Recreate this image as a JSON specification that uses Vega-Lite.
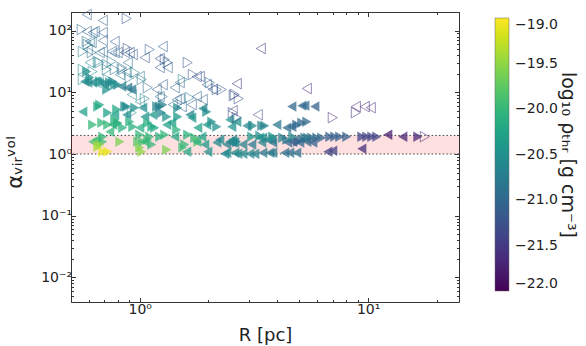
{
  "$schema": "https://vega.github.io/schema/vega-lite/v6.json",
  "width": 388,
  "height": 290,
  "autosize": {"type": "none"},
  "padding": {"left": 71, "top": 12, "right": 127, "bottom": 44},
  "background": "white",
  "config": {
    "font": "DejaVu Sans",
    "view": {"stroke": "#333", "strokeWidth": 1},
    "axis": {"grid": false, "domain": false, "tickColor": "#333", "tickWidth": 1, "labelColor": "#222", "titleColor": "#222", "labelFont": "DejaVu Sans", "titleFont": "DejaVu Sans", "labelFontSize": 14, "titleFontWeight": "normal", "labelFlush": false, "labelOverlap": false},
    "legend": {"padding": 0}
  },
  "datasets": {
    "band": [{"lo": 1, "hi": 2}],
    "lines": [{"v": 1}, {"v": 2}],
    "pts": [
      {"R":0.586,"a":182,"rho":-21.1,"d":"L","f":0},
      {"R":0.689,"a":146,"rho":-21.1,"d":"L","f":0},
      {"R":0.877,"a":157,"rho":-21.2,"d":"R","f":0},
      {"R":0.557,"a":104,"rho":-21.0,"d":"R","f":0},
      {"R":0.586,"a":96.6,"rho":-21.0,"d":"L","f":0},
      {"R":0.622,"a":93.1,"rho":-21.0,"d":"L","f":0},
      {"R":0.635,"a":96.6,"rho":-21.0,"d":"L","f":0},
      {"R":0.689,"a":93.1,"rho":-21.1,"d":"L","f":0},
      {"R":0.586,"a":66.5,"rho":-20.9,"d":"R","f":0},
      {"R":0.604,"a":66.5,"rho":-20.9,"d":"L","f":0},
      {"R":0.592,"a":59.5,"rho":-20.8,"d":"R","f":0},
      {"R":0.616,"a":64.1,"rho":-20.9,"d":"L","f":0},
      {"R":0.689,"a":69.1,"rho":-21.1,"d":"L","f":0},
      {"R":0.777,"a":66.5,"rho":-21.1,"d":"L","f":0},
      {"R":0.886,"a":51.2,"rho":-21.3,"d":"R","f":0},
      {"R":0.860,"a":44.1,"rho":-21.2,"d":"L","f":0},
      {"R":0.932,"a":40.9,"rho":-21.1,"d":"L","f":0},
      {"R":1.106,"a":49.3,"rho":-21.1,"d":"R","f":0},
      {"R":1.261,"a":55.2,"rho":-21.1,"d":"L","f":0},
      {"R":1.223,"a":35.2,"rho":-21.2,"d":"L","f":0},
      {"R":1.287,"a":34.0,"rho":-21.2,"d":"R","f":0},
      {"R":1.326,"a":30.3,"rho":-21.1,"d":"R","f":0},
      {"R":0.563,"a":45.8,"rho":-20.7,"d":"R","f":0},
      {"R":0.592,"a":49.3,"rho":-20.9,"d":"L","f":0},
      {"R":0.616,"a":44.1,"rho":-20.9,"d":"R","f":0},
      {"R":0.668,"a":44.1,"rho":-20.9,"d":"L","f":0},
      {"R":0.689,"a":45.8,"rho":-21.0,"d":"L","f":0},
      {"R":0.754,"a":45.8,"rho":-21.0,"d":"L","f":0},
      {"R":0.777,"a":44.1,"rho":-21.0,"d":"L","f":0},
      {"R":0.801,"a":44.1,"rho":-21.1,"d":"L","f":0},
      {"R":0.904,"a":44.1,"rho":-21.1,"d":"L","f":0},
      {"R":1.052,"a":36.6,"rho":-21.2,"d":"L","f":0},
      {"R":0.604,"a":30.3,"rho":-20.6,"d":"L","f":0},
      {"R":0.668,"a":30.3,"rho":-20.7,"d":"R","f":0},
      {"R":0.717,"a":28.2,"rho":-20.8,"d":"R","f":0},
      {"R":0.754,"a":31.5,"rho":-20.8,"d":"R","f":0},
      {"R":0.834,"a":25.2,"rho":-20.9,"d":"R","f":0},
      {"R":0.886,"a":30.3,"rho":-20.9,"d":"L","f":0},
      {"R":0.563,"a":23.4,"rho":-20.5,"d":"R","f":0},
      {"R":0.622,"a":21.7,"rho":-20.6,"d":"R","f":0},
      {"R":0.717,"a":23.4,"rho":-20.7,"d":"R","f":0},
      {"R":0.777,"a":23.4,"rho":-20.8,"d":"R","f":0},
      {"R":0.842,"a":23.4,"rho":-20.9,"d":"R","f":0},
      {"R":0.877,"a":20.9,"rho":-20.9,"d":"L","f":0},
      {"R":0.563,"a":16.1,"rho":-20.5,"d":"R","f":0},
      {"R":0.648,"a":14.4,"rho":-20.6,"d":"L","f":0},
      {"R":0.724,"a":16.1,"rho":-20.6,"d":"R","f":0},
      {"R":0.904,"a":17.3,"rho":-20.7,"d":"R","f":0},
      {"R":1.0,"a":18.0,"rho":-20.8,"d":"L","f":0},
      {"R":1.02,"a":16.1,"rho":-20.8,"d":"R","f":0},
      {"R":1.084,"a":11.9,"rho":-21.0,"d":"R","f":0},
      {"R":1.187,"a":11.1,"rho":-21.0,"d":"L","f":0},
      {"R":1.261,"a":13.3,"rho":-21.1,"d":"L","f":0},
      {"R":1.423,"a":11.9,"rho":-21.1,"d":"L","f":0},
      {"R":1.497,"a":14.4,"rho":-21.1,"d":"L","f":0},
      {"R":1.622,"a":30.3,"rho":-21.2,"d":"R","f":0},
      {"R":1.707,"a":19.4,"rho":-21.2,"d":"R","f":0},
      {"R":1.777,"a":18.0,"rho":-21.2,"d":"L","f":0},
      {"R":1.832,"a":18.0,"rho":-21.2,"d":"L","f":0},
      {"R":1.966,"a":13.3,"rho":-21.1,"d":"L","f":0},
      {"R":2.088,"a":11.1,"rho":-21.2,"d":"L","f":0},
      {"R":2.174,"a":11.1,"rho":-21.2,"d":"R","f":0},
      {"R":2.286,"a":11.1,"rho":-21.2,"d":"R","f":0},
      {"R":2.607,"a":9.18,"rho":-21.3,"d":"R","f":0},
      {"R":2.66,"a":13.8,"rho":-21.6,"d":"L","f":0},
      {"R":0.923,"a":9.18,"rho":-20.7,"d":"L","f":0},
      {"R":1.052,"a":7.9,"rho":-20.6,"d":"R","f":0},
      {"R":1.0,"a":7.06,"rho":-20.6,"d":"L","f":0},
      {"R":1.223,"a":8.51,"rho":-20.9,"d":"L","f":0},
      {"R":1.261,"a":8.51,"rho":-21.0,"d":"R","f":0},
      {"R":1.452,"a":7.61,"rho":-21.0,"d":"L","f":0},
      {"R":1.497,"a":7.9,"rho":-21.0,"d":"L","f":0},
      {"R":1.656,"a":8.2,"rho":-20.7,"d":"R","f":0},
      {"R":1.777,"a":8.51,"rho":-21.0,"d":"L","f":0},
      {"R":1.888,"a":7.61,"rho":-21.1,"d":"L","f":0},
      {"R":1.395,"a":6.31,"rho":-21.0,"d":"L","f":0},
      {"R":1.528,"a":5.86,"rho":-21.0,"d":"L","f":0},
      {"R":1.69,"a":6.31,"rho":-21.1,"d":"L","f":0},
      {"R":2.58,"a":8.85,"rho":-21.3,"d":"R","f":0},
      {"R":2.714,"a":7.9,"rho":-21.3,"d":"R","f":0},
      {"R":2.554,"a":5.04,"rho":-21.3,"d":"L","f":0},
      {"R":2.66,"a":3.88,"rho":-21.3,"d":"R","f":0},
      {"R":3.288,"a":4.34,"rho":-21.3,"d":"L","f":0},
      {"R":3.388,"a":51.2,"rho":-21.6,"d":"L","f":0},
      {"R":5.39,"a":11.5,"rho":-21.6,"d":"L","f":0},
      {"R":8.835,"a":5.86,"rho":-21.6,"d":"L","f":0},
      {"R":9.67,"a":5.86,"rho":-21.6,"d":"L","f":0},
      {"R":10.27,"a":5.64,"rho":-21.6,"d":"L","f":0},
      {"R":8.835,"a":4.68,"rho":-21.6,"d":"R","f":0},
      {"R":7.0,"a":3.88,"rho":-21.6,"d":"R","f":0},
      {"R":17.71,"a":1.91,"rho":-21.7,"d":"R","f":0},
      {"R":0.923,"a":4.68,"rho":-20.6,"d":"R","f":0},
      {"R":2.554,"a":4.68,"rho":-21.2,"d":"R","f":0},
      {"R":1.223,"a":25.2,"rho":-21.1,"d":"L","f":0},
      {"R":1.326,"a":25.2,"rho":-21.1,"d":"L","f":0},
      {"R":1.543,"a":16.1,"rho":-20.7,"d":"R","f":0},
      {"R":2.026,"a":14.4,"rho":-21.0,"d":"R","f":0},
      {"R":0.818,"a":19.4,"rho":-20.8,"d":"L","f":0},
      {"R":0.951,"a":20.9,"rho":-20.7,"d":"R","f":0},
      {"R":0.655,"a":31.5,"rho":-20.7,"d":"R","f":0},
      {"R":0.574,"a":14.9,"rho":-20.5,"d":"L","f":1},
      {"R":0.586,"a":21.7,"rho":-20.5,"d":"R","f":1},
      {"R":0.604,"a":17.3,"rho":-20.5,"d":"R","f":1},
      {"R":0.622,"a":14.4,"rho":-20.5,"d":"L","f":1},
      {"R":0.689,"a":14.9,"rho":-20.5,"d":"R","f":1},
      {"R":0.703,"a":13.3,"rho":-20.6,"d":"L","f":1},
      {"R":0.762,"a":14.9,"rho":-20.5,"d":"R","f":1},
      {"R":0.801,"a":13.3,"rho":-20.6,"d":"R","f":1},
      {"R":0.834,"a":12.4,"rho":-20.7,"d":"L","f":1},
      {"R":0.886,"a":11.9,"rho":-20.8,"d":"L","f":1},
      {"R":0.923,"a":11.1,"rho":-20.8,"d":"L","f":1},
      {"R":0.592,"a":14.4,"rho":-20.6,"d":"L","f":1},
      {"R":0.668,"a":14.9,"rho":-20.5,"d":"R","f":1},
      {"R":0.739,"a":14.4,"rho":-20.6,"d":"R","f":1},
      {"R":0.717,"a":11.1,"rho":-20.5,"d":"R","f":1},
      {"R":0.777,"a":13.3,"rho":-20.5,"d":"R","f":1},
      {"R":0.655,"a":5.86,"rho":-20.2,"d":"R","f":1},
      {"R":0.563,"a":4.86,"rho":-20.3,"d":"L","f":1},
      {"R":0.724,"a":4.68,"rho":-20.3,"d":"R","f":1},
      {"R":0.777,"a":4.34,"rho":-20.3,"d":"L","f":1},
      {"R":0.877,"a":5.86,"rho":-20.5,"d":"R","f":1},
      {"R":0.951,"a":5.64,"rho":-20.5,"d":"R","f":1},
      {"R":1.031,"a":5.64,"rho":-20.5,"d":"L","f":1},
      {"R":1.14,"a":4.34,"rho":-20.4,"d":"L","f":1},
      {"R":1.187,"a":5.86,"rho":-20.7,"d":"R","f":1},
      {"R":1.223,"a":5.86,"rho":-20.8,"d":"R","f":1},
      {"R":1.261,"a":6.31,"rho":-20.7,"d":"R","f":1},
      {"R":1.248,"a":4.68,"rho":-20.6,"d":"R","f":1},
      {"R":1.313,"a":4.03,"rho":-20.5,"d":"R","f":1},
      {"R":1.467,"a":5.64,"rho":-20.5,"d":"R","f":1},
      {"R":1.467,"a":4.03,"rho":-20.4,"d":"R","f":1},
      {"R":1.966,"a":4.86,"rho":-20.5,"d":"R","f":1},
      {"R":1.888,"a":5.44,"rho":-20.6,"d":"L","f":1},
      {"R":0.668,"a":6.31,"rho":-20.2,"d":"R","f":1},
      {"R":1.052,"a":4.03,"rho":-20.5,"d":"L","f":1},
      {"R":0.877,"a":4.34,"rho":-20.5,"d":"L","f":1},
      {"R":0.86,"a":5.86,"rho":-20.6,"d":"R","f":1},
      {"R":4.633,"a":5.86,"rho":-21.0,"d":"L","f":1},
      {"R":5.124,"a":6.08,"rho":-21.0,"d":"L","f":1},
      {"R":5.282,"a":6.08,"rho":-21.0,"d":"L","f":1},
      {"R":5.842,"a":5.86,"rho":-21.1,"d":"L","f":1},
      {"R":1.656,"a":4.34,"rho":-20.6,"d":"L","f":1},
      {"R":0.622,"a":2.99,"rho":-20.0,"d":"R","f":1},
      {"R":0.682,"a":3.22,"rho":-20.0,"d":"R","f":1},
      {"R":0.724,"a":2.99,"rho":-20.0,"d":"R","f":1},
      {"R":0.777,"a":3.6,"rho":-20.1,"d":"R","f":1},
      {"R":0.801,"a":3.22,"rho":-20.1,"d":"R","f":1},
      {"R":0.739,"a":2.3,"rho":-20.0,"d":"L","f":1},
      {"R":0.904,"a":3.34,"rho":-20.1,"d":"R","f":1},
      {"R":1.0,"a":2.67,"rho":-20.1,"d":"L","f":1},
      {"R":1.084,"a":3.22,"rho":-20.1,"d":"R","f":1},
      {"R":1.129,"a":2.77,"rho":-20.2,"d":"R","f":1},
      {"R":1.163,"a":2.67,"rho":-20.2,"d":"R","f":1},
      {"R":1.313,"a":2.99,"rho":-20.3,"d":"L","f":1},
      {"R":1.381,"a":3.22,"rho":-20.3,"d":"L","f":1},
      {"R":1.452,"a":2.48,"rho":-20.1,"d":"R","f":1},
      {"R":1.69,"a":3.88,"rho":-20.4,"d":"L","f":1},
      {"R":1.795,"a":2.67,"rho":-20.3,"d":"L","f":1},
      {"R":1.966,"a":2.99,"rho":-20.4,"d":"L","f":1},
      {"R":2.067,"a":3.34,"rho":-20.5,"d":"R","f":1},
      {"R":2.174,"a":2.77,"rho":-20.5,"d":"R","f":1},
      {"R":2.478,"a":3.6,"rho":-20.5,"d":"L","f":1},
      {"R":2.66,"a":3.34,"rho":-20.5,"d":"L","f":1},
      {"R":2.529,"a":2.77,"rho":-20.5,"d":"L","f":1},
      {"R":2.943,"a":2.88,"rho":-20.6,"d":"L","f":1},
      {"R":3.126,"a":2.88,"rho":-20.6,"d":"R","f":1},
      {"R":3.423,"a":2.88,"rho":-20.7,"d":"R","f":1},
      {"R":3.528,"a":2.88,"rho":-20.7,"d":"R","f":1},
      {"R":3.981,"a":2.99,"rho":-20.8,"d":"L","f":1},
      {"R":4.404,"a":2.67,"rho":-21.0,"d":"L","f":1},
      {"R":4.633,"a":2.77,"rho":-21.0,"d":"L","f":1},
      {"R":4.872,"a":2.99,"rho":-21.0,"d":"R","f":1},
      {"R":5.124,"a":3.22,"rho":-21.0,"d":"R","f":1},
      {"R":5.39,"a":3.34,"rho":-21.0,"d":"R","f":1},
      {"R":0.801,"a":3.1,"rho":-20.0,"d":"R","f":1},
      {"R":0.932,"a":2.77,"rho":-20.1,"d":"R","f":1},
      {"R":0.842,"a":2.67,"rho":-20.1,"d":"R","f":1},
      {"R":0.762,"a":2.99,"rho":-20.1,"d":"L","f":1},
      {"R":0.793,"a":5.24,"rho":-20.2,"d":"R","f":1},
      {"R":0.622,"a":1.58,"rho":-19.9,"d":"L","f":1},
      {"R":0.648,"a":1.71,"rho":-19.9,"d":"L","f":1},
      {"R":0.689,"a":1.58,"rho":-19.9,"d":"R","f":1},
      {"R":0.668,"a":1.42,"rho":-19.5,"d":"R","f":1},
      {"R":0.689,"a":1.91,"rho":-20.0,"d":"R","f":1},
      {"R":0.818,"a":1.58,"rho":-19.6,"d":"R","f":1},
      {"R":0.98,"a":1.58,"rho":-19.8,"d":"R","f":1},
      {"R":1.031,"a":1.58,"rho":-19.9,"d":"R","f":1},
      {"R":1.084,"a":1.71,"rho":-19.9,"d":"R","f":1},
      {"R":1.106,"a":1.91,"rho":-20.0,"d":"R","f":1},
      {"R":1.0,"a":1.27,"rho":-19.6,"d":"R","f":1},
      {"R":1.129,"a":1.42,"rho":-20.0,"d":"R","f":1},
      {"R":1.223,"a":1.91,"rho":-20.1,"d":"R","f":1},
      {"R":1.313,"a":1.17,"rho":-19.6,"d":"R","f":1},
      {"R":1.423,"a":1.91,"rho":-20.2,"d":"L","f":1},
      {"R":1.543,"a":1.27,"rho":-19.9,"d":"R","f":1},
      {"R":1.574,"a":1.42,"rho":-20.0,"d":"R","f":1},
      {"R":1.622,"a":2.06,"rho":-20.1,"d":"R","f":1},
      {"R":1.741,"a":1.84,"rho":-20.0,"d":"R","f":1},
      {"R":1.795,"a":1.58,"rho":-19.8,"d":"R","f":1},
      {"R":1.869,"a":1.91,"rho":-20.3,"d":"L","f":1},
      {"R":1.926,"a":1.42,"rho":-20.4,"d":"L","f":1},
      {"R":1.986,"a":1.09,"rho":-20.5,"d":"L","f":1},
      {"R":2.174,"a":1.53,"rho":-20.6,"d":"L","f":1},
      {"R":2.241,"a":1.71,"rho":-20.6,"d":"L","f":1},
      {"R":2.405,"a":1.42,"rho":-20.7,"d":"L","f":1},
      {"R":2.478,"a":1.58,"rho":-20.7,"d":"L","f":1},
      {"R":2.554,"a":1.53,"rho":-20.7,"d":"L","f":1},
      {"R":2.66,"a":1.58,"rho":-20.6,"d":"R","f":1},
      {"R":0.689,"a":1.09,"rho":-19.1,"d":"R","f":1},
      {"R":0.724,"a":1.09,"rho":-19.1,"d":"R","f":1},
      {"R":1.02,"a":1.09,"rho":-19.5,"d":"R","f":1},
      {"R":1.606,"a":1.09,"rho":-20.2,"d":"L","f":1},
      {"R":2.405,"a":1.05,"rho":-20.5,"d":"L","f":1},
      {"R":2.607,"a":1.05,"rho":-20.6,"d":"L","f":1},
      {"R":2.687,"a":1.01,"rho":-20.6,"d":"L","f":1},
      {"R":2.827,"a":1.01,"rho":-20.6,"d":"L","f":1},
      {"R":3.033,"a":1.01,"rho":-20.6,"d":"L","f":1},
      {"R":3.19,"a":1.01,"rho":-20.7,"d":"L","f":1},
      {"R":3.711,"a":1.05,"rho":-20.8,"d":"L","f":1},
      {"R":3.824,"a":1.05,"rho":-20.8,"d":"L","f":1},
      {"R":4.316,"a":1.05,"rho":-20.9,"d":"L","f":1},
      {"R":4.54,"a":1.05,"rho":-20.9,"d":"L","f":1},
      {"R":4.872,"a":1.05,"rho":-20.9,"d":"L","f":1},
      {"R":6.66,"a":1.09,"rho":-21.4,"d":"L","f":1},
      {"R":7.0,"a":1.13,"rho":-21.4,"d":"L","f":1},
      {"R":9.385,"a":1.22,"rho":-21.6,"d":"L","f":1},
      {"R":2.554,"a":1.71,"rho":-20.6,"d":"L","f":1},
      {"R":2.607,"a":1.53,"rho":-20.6,"d":"L","f":1},
      {"R":2.827,"a":1.42,"rho":-20.7,"d":"L","f":1},
      {"R":3.094,"a":1.42,"rho":-20.8,"d":"L","f":1},
      {"R":3.355,"a":1.84,"rho":-20.4,"d":"L","f":1},
      {"R":3.458,"a":1.84,"rho":-20.5,"d":"L","f":1},
      {"R":3.423,"a":1.53,"rho":-20.7,"d":"L","f":1},
      {"R":3.637,"a":1.71,"rho":-20.6,"d":"L","f":1},
      {"R":3.786,"a":1.71,"rho":-20.6,"d":"L","f":1},
      {"R":3.824,"a":1.53,"rho":-20.8,"d":"L","f":1},
      {"R":4.228,"a":1.84,"rho":-20.7,"d":"R","f":1},
      {"R":4.404,"a":1.71,"rho":-20.8,"d":"R","f":1},
      {"R":4.449,"a":1.53,"rho":-21.0,"d":"L","f":1},
      {"R":4.68,"a":1.58,"rho":-21.1,"d":"L","f":1},
      {"R":4.921,"a":1.58,"rho":-21.1,"d":"R","f":1},
      {"R":5.124,"a":1.71,"rho":-21.0,"d":"R","f":1},
      {"R":5.282,"a":1.84,"rho":-20.8,"d":"R","f":1},
      {"R":5.445,"a":1.84,"rho":-20.8,"d":"R","f":1},
      {"R":5.668,"a":1.84,"rho":-20.9,"d":"R","f":1},
      {"R":5.961,"a":1.84,"rho":-20.9,"d":"R","f":1},
      {"R":6.268,"a":1.84,"rho":-21.0,"d":"R","f":1},
      {"R":6.796,"a":1.91,"rho":-21.1,"d":"R","f":1},
      {"R":7.146,"a":1.91,"rho":-21.1,"d":"R","f":1},
      {"R":7.516,"a":1.91,"rho":-21.1,"d":"R","f":1},
      {"R":8.066,"a":1.91,"rho":-21.1,"d":"R","f":1},
      {"R":9.385,"a":1.91,"rho":-21.4,"d":"R","f":1},
      {"R":9.868,"a":1.91,"rho":-21.4,"d":"R","f":1},
      {"R":10.38,"a":1.91,"rho":-21.4,"d":"R","f":1},
      {"R":10.92,"a":1.91,"rho":-21.4,"d":"R","f":1},
      {"R":12.19,"a":2.06,"rho":-21.8,"d":"L","f":1},
      {"R":14.19,"a":1.91,"rho":-21.7,"d":"L","f":1},
      {"R":16.51,"a":1.91,"rho":-21.7,"d":"R","f":1},
      {"R":4.68,"a":1.91,"rho":-20.6,"d":"R","f":1},
      {"R":3.824,"a":1.91,"rho":-20.5,"d":"R","f":1},
      {"R":3.355,"a":1.98,"rho":-20.5,"d":"R","f":1},
      {"R":3.094,"a":1.91,"rho":-20.4,"d":"R","f":1},
      {"R":1.287,"a":2.06,"rho":-20.0,"d":"R","f":1},
      {"R":1.0,"a":2.06,"rho":-20.0,"d":"R","f":1},
      {"R":0.655,"a":1.31,"rho":-19.4,"d":"R","f":1},
      {"R":1.052,"a":1.58,"rho":-20.0,"d":"L","f":1},
      {"R":1.777,"a":1.58,"rho":-20.1,"d":"L","f":1},
      {"R":5.021,"a":1.53,"rho":-21.0,"d":"L","f":1},
      {"R":5.39,"a":1.58,"rho":-21.0,"d":"L","f":1},
      {"R":5.725,"a":1.53,"rho":-21.1,"d":"L","f":1},
      {"R":3.458,"a":1.05,"rho":-20.8,"d":"L","f":1},
      {"R":2.357,"a":1.01,"rho":-20.6,"d":"L","f":1}
    ]
  },
  "layer": [
    {
      "data": {"name": "band"},
      "mark": {"type": "rect", "color": "#ff0000", "opacity": 0.12},
      "encoding": {
        "y": {"field": "lo", "type": "quantitative", "scale": {"type": "log", "domain": [0.004, 200], "nice": false}, "axis": null},
        "y2": {"field": "hi"}
      }
    },
    {
      "data": {"name": "lines"},
      "mark": {"type": "rule", "color": "#444", "strokeDash": [1.5, 2.2], "strokeWidth": 1},
      "encoding": {
        "y": {"field": "v", "type": "quantitative", "axis": null}
      }
    },
    {
      "data": {"name": "pts"},
      "transform": [{"filter": "datum.f == 1"}],
      "mark": {"type": "point", "filled": true, "fillOpacity": 0.75, "size": 110},
      "encoding": {
        "x": {"field": "R", "type": "quantitative", "scale": {"type": "log", "domain": [0.5, 25], "nice": false},
          "axis": {"orient": "bottom", "title": "R [pc]", "titleFontSize": 18, "titlePadding": 8,
            "values": [0.5,0.6,0.7,0.8,0.9,1,2,3,4,5,6,7,8,9,10,20],
            "labelExpr": "abs(log(datum.value)/LN10 - round(log(datum.value)/LN10)) < 1e-6 ? '10' + replace(replace(replace(replace('' + round(log(datum.value)/LN10), '-', '⁻'), '0', '⁰'), '1', '¹'), '2', '²') : ''",
            "tickSize": {"condition": {"test": "abs(log(datum.value)/LN10 - round(log(datum.value)/LN10)) < 1e-6", "value": -4.5}, "value": -2.5},
            "labelPadding": 5}},
        "y": {"field": "a", "type": "quantitative",
          "axis": {"orient": "left", "title": "αᵥᵢᵣᵛᵒˡ", "titleFontSize": 21, "titlePadding": 15, "titleY": 150,
            "values": [0.005,0.006,0.007,0.008,0.009,0.01,0.02,0.03,0.04,0.05,0.06,0.07,0.08,0.09,0.1,0.2,0.3,0.4,0.5,0.6,0.7,0.8,0.9,1,2,3,4,5,6,7,8,9,10,20,30,40,50,60,70,80,90,100,200],
            "labelExpr": "abs(log(datum.value)/LN10 - round(log(datum.value)/LN10)) < 1e-6 ? '10' + replace(replace(replace(replace('' + round(log(datum.value)/LN10), '-', '⁻'), '0', '⁰'), '1', '¹'), '2', '²') : ''",
            "tickSize": {"condition": {"test": "abs(log(datum.value)/LN10 - round(log(datum.value)/LN10)) < 1e-6", "value": -4.5}, "value": -2.5},
            "labelPadding": 4}},
        "color": {"field": "rho", "type": "quantitative",
          "scale": {"scheme": "viridis", "domain": [-22, -19], "clamp": true},
          "legend": {"type": "gradient", "orient": "none", "legendX": 424, "legendY": 6, "direction": "vertical",
            "gradientLength": 273, "gradientThickness": 14, "gradientStrokeColor": "#666", "gradientStrokeWidth": 0.5,
            "values": [-22, -21.5, -21, -20.5, -20, -19.5, -19], "format": ".1f",
            "labelFontSize": 14, "labelFont": "DejaVu Sans", "labelColor": "#222", "labelOffset": 6, "labelOverlap": false,
            "title": "log₁₀ ρₜₕᵣ [g cm⁻³]", "titleOrient": "right", "titleFontSize": 19,
            "titleFontWeight": "normal", "titleFont": "DejaVu Sans", "titleColor": "#222", "titlePadding": 0,
            "encode": {
              "gradient": {"opacity": {"value": 1}},
              "title": {"angle": {"value": 270}, "baseline": {"value": "top"}}
            }}},
        "shape": {"field": "d", "type": "nominal", "scale": {"domain": ["L", "R"], "range": ["triangle-left", "triangle-right"]}, "legend": null}
      }
    },
    {
      "data": {"name": "pts"},
      "transform": [{"filter": "datum.f == 0"}],
      "mark": {"type": "point", "filled": false, "fill": null, "strokeOpacity": 0.8, "size": 110, "strokeWidth": 1},
      "encoding": {
        "x": {"field": "R", "type": "quantitative",
          "axis": {"orient": "top", "title": null, "labels": false,
            "values": [0.5,0.6,0.7,0.8,0.9,1,2,3,4,5,6,7,8,9,10,20],
            "tickSize": {"condition": {"test": "abs(log(datum.value)/LN10 - round(log(datum.value)/LN10)) < 1e-6", "value": -4.5}, "value": -2.5}}},
        "y": {"field": "a", "type": "quantitative",
          "axis": {"orient": "right", "title": null, "labels": false,
            "values": [0.005,0.006,0.007,0.008,0.009,0.01,0.02,0.03,0.04,0.05,0.06,0.07,0.08,0.09,0.1,0.2,0.3,0.4,0.5,0.6,0.7,0.8,0.9,1,2,3,4,5,6,7,8,9,10,20,30,40,50,60,70,80,90,100,200],
            "tickSize": {"condition": {"test": "abs(log(datum.value)/LN10 - round(log(datum.value)/LN10)) < 1e-6", "value": -4.5}, "value": -2.5}}},
        "stroke": {"field": "rho", "type": "quantitative", "scale": {"scheme": "viridis", "domain": [-22.0001, -19.0001], "clamp": true}, "legend": null},
        "shape": {"field": "d", "type": "nominal", "legend": null}
      }
    }
  ],
  "resolve": {"axis": {"x": "independent", "y": "independent"}}
}
